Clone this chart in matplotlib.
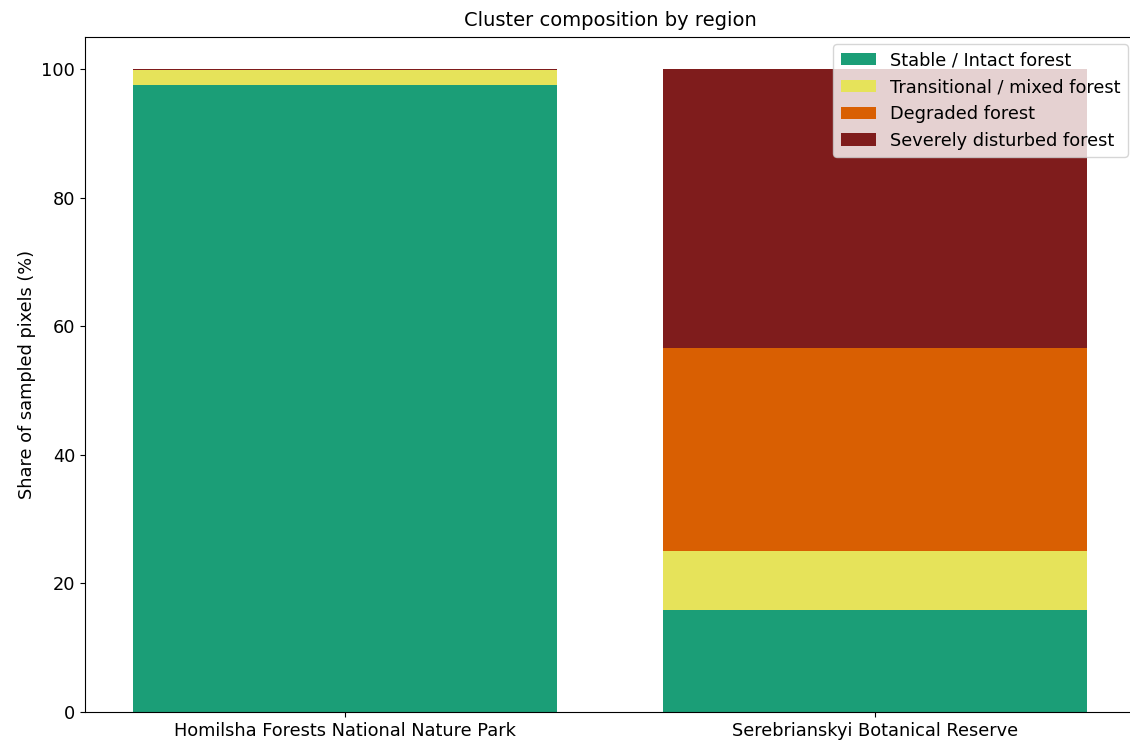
import matplotlib
matplotlib.use('Agg')
import matplotlib.pyplot as plt
import numpy as np

regions = ["Homilsha Forests National Nature Park", "Serebrianskyi Botanical Reserve"]
clusters = ["Stable / Intact forest", "Transitional / mixed forest",
            "Degraded forest", "Severely disturbed forest"]
stable = [97.6, 15.9]
transitional = [2.2, 9.1]
degraded = [0.1, 31.6]
severe = [0.1, 43.4]
colors = ["#1b9e77", "#e6e35a", "#d95f02", "#7f1c1c"]

fig = plt.figure(figsize=(11.3, 7.42), dpi=100)
ax = fig.add_axes([85 / 1130, 30 / 742, 1050 / 1130, 675 / 742])

x = np.arange(len(regions))
bottom = np.zeros(len(regions))
for name, vals, c in zip(clusters, [stable, transitional, degraded, severe], colors):
    ax.bar(x, vals, width=0.8, bottom=bottom, color=c, label=name)
    bottom += np.array(vals)

ax.set_xticks(x)
ax.set_xticklabels(regions, fontsize=12.8)
ax.tick_params(axis='y', labelsize=12.8)
ax.set_ylabel('Share of sampled pixels (%)', fontsize=12.8)
ax.set_title('Cluster composition by region', fontsize=14, pad=8)
ax.legend(loc='upper right', fontsize=12.8, borderaxespad=0.4)

fig.savefig('out.png', dpi=100)
